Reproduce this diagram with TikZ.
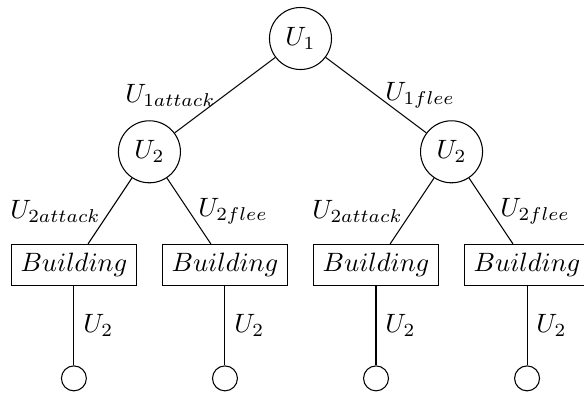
\documentclass[tikz,border=0pt]{standalone}
\begin{document}
\begin{tikzpicture}[
  unode/.style={circle, draw, inner sep=0.3333em},
  bnode/.style={rectangle, draw, inner sep=0.3333em},
  leafnode/.style={circle, draw, inner sep=0pt, minimum size=9.4pt},
  conn/.style={draw, line width=0.4pt}
]
\useasboundingbox (-113.2pt,14.5pt) rectangle (106.8pt,-133.2pt);
\node[unode] (u1) at (0,0) {$U_1$};
\node[unode] (u2l) at (-2,-1.5) {$U_2$};
\node[unode] (u2r) at (2,-1.5) {$U_2$};
\node[bnode] (b1) at (-3,-3) {$Building$};
\node[bnode] (b2) at (-1,-3) {$Building$};
\node[bnode] (b3) at (1,-3) {$Building$};
\node[bnode] (b4) at (3,-3) {$Building$};
\node[leafnode] (l1) at (-3,-4.5) {};
\node[leafnode] (l2) at (-1,-4.5) {};
\node[leafnode] (l3) at (1,-4.5) {};
\node[leafnode] (l4) at (3,-4.5) {};
\draw[conn] (u1) -- node[left] {$U_{1attack}$} (u2l);
\draw[conn] (u1) -- node[right] {$U_{1flee}$} (u2r);
\draw[conn] (u2l) -- node[left] {$U_{2attack}$} (b1);
\draw[conn] (u2l) -- node[right] {$U_{2flee}$} (b2);
\draw[conn] (u2r) -- node[left] {$U_{2attack}$} (b3);
\draw[conn] (u2r) -- node[right] {$U_{2flee}$} (b4);
\draw[conn] (b1) -- node[right] {$U_2$} (l1);
\draw[conn] (b2) -- node[right] {$U_2$} (l2);
\draw[conn] (b3) -- node[right] {$U_2$} (l3);
\draw[conn] (b4) -- node[right] {$U_2$} (l4);
\end{tikzpicture}
\end{document}
